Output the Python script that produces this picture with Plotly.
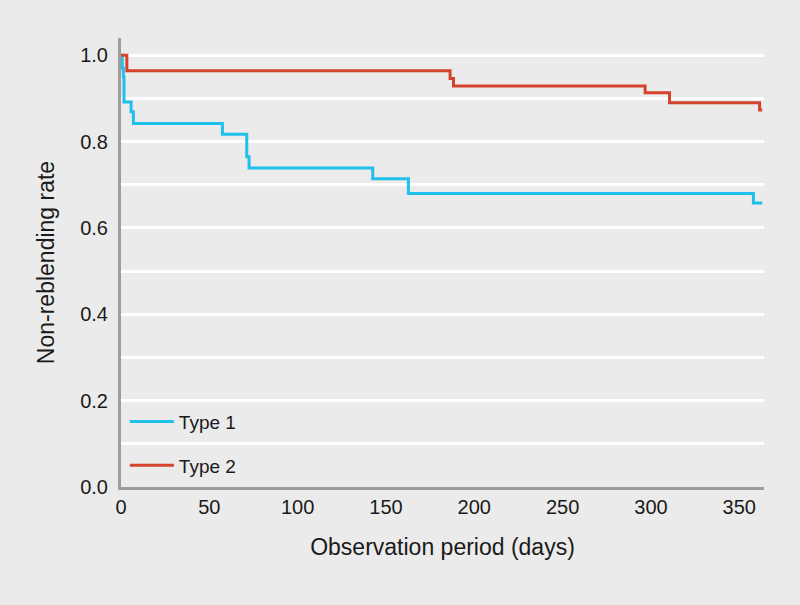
import plotly.graph_objects as go

# Kaplan-Meier style step data (days, non-reblending rate)
type1_days = [0, 0.7, 1.3, 1.7, 5.7, 7.0, 57.4, 71.2, 72.5, 142.5, 162.7, 358.0, 363.0]
type1_rate = [1.0, 0.97, 0.95, 0.892, 0.869, 0.842, 0.817, 0.765, 0.739, 0.714, 0.680, 0.658, 0.658]

type2_days = [0, 3.3, 186.3, 188.2, 296.7, 310.5, 361.5, 363.0]
type2_rate = [1.0, 0.964, 0.946, 0.929, 0.913, 0.890, 0.873, 0.873]

x_ticks = [0, 50, 100, 150, 200, 250, 300, 350]
y_ticks = [0.0, 0.2, 0.4, 0.6, 0.8, 1.0]
y_tick_labels = ["0.0", "0.2", "0.4", "0.6", "0.8", "1.0"]
grid_vals = [0.1, 0.2, 0.3, 0.4, 0.5, 0.6, 0.7, 0.8, 0.9, 1.0]

FONT = "Liberation Sans Narrow, Arial Narrow, sans-serif"
BG = "#ebebeb"

fig = go.Figure()
fig.add_trace(go.Scatter(x=type1_days, y=type1_rate, mode="lines", name="Type 1",
                         line=dict(color="#1fc0ec", width=3, shape="hv"),
                         legendgroup="g1"))
fig.add_trace(go.Scatter(x=type2_days, y=type2_rate, mode="lines", name="Type 2",
                         line=dict(color="#d5432c", width=3, shape="hv"),
                         legendgroup="g2"))

fig.update_layout(
    width=800, height=605,
    paper_bgcolor=BG, plot_bgcolor=BG,
    margin=dict(l=121, r=36, t=38, b=118),
    font=dict(family=FONT, size=19, color="#1a1a1a"),
    showlegend=True,
    legend=dict(x=0.006, y=0.005, xanchor="left", yanchor="bottom",
                bgcolor="rgba(0,0,0,0)", font=dict(size=19),
                traceorder="grouped", tracegroupgap=16, itemwidth=44),
    xaxis=dict(range=[0, 364], tickvals=x_ticks, showgrid=False, zeroline=False,
               showline=True, linecolor="#9d9d9d", linewidth=3,
               ticks="", tickfont=dict(size=20),
               title=dict(text="Observation period (days)", standoff=22)),
    yaxis=dict(range=[0, 1.04], tickvals=y_ticks, ticktext=y_tick_labels,
               showgrid=False, zeroline=False, ticklabelstandoff=6,
               showline=True, linecolor="#9d9d9d", linewidth=3, ticks="",
               tickfont=dict(size=20),
               title=dict(text="Non-reblending rate", standoff=20)),
)

fig.update_yaxes(minor=dict(tickvals=grid_vals, showgrid=True, gridcolor="white", gridwidth=3))

fig.write_html("out.html", config={"displayModeBar": False},
               post_script="document.body.style.margin='0';")
